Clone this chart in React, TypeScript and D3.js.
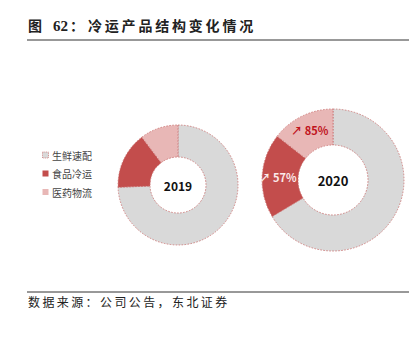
import React from "react";
import * as d3 from "d3";

const categories = ["生鲜速配", "食品冷运", "医药物流"];
const years = ["2019", "2020"];
const shares2019 = [74.4, 15.3, 10.3];
const shares2020 = [66.4, 19.2, 14.4];
const growthLabels = ["", "57%", "85%"];
const colors = ["#d9d9d9", "#c34d4c", "#e8b7b6"];

const SANS = "'Noto Sans CJK SC', 'Noto Sans', sans-serif";

type DonutProps = { cx: number; cy: number; r0: number; r1: number; values: number[]; year: string; fs: number; showGrowth?: boolean };

function Donut({ cx, cy, r0, r1, values, year, fs, showGrowth }: DonutProps) {
  const pie = d3.pie<number>().sort(null).value((d) => d).startAngle(0).endAngle(2 * Math.PI);
  const arcs = pie(values);
  const arc = d3.arc<d3.PieArcDatum<number>>().innerRadius(r0).outerRadius(r1);
  const labelArc = d3.arc<d3.PieArcDatum<number>>().innerRadius((r0 + r1) / 2).outerRadius((r0 + r1) / 2);
  return (
    <g transform={`translate(${cx},${cy})`}>
      {arcs.map((a, i) => (
        <path key={i} d={arc(a) || ""} fill={colors[i]} stroke="#c9706e" strokeWidth={0.8} strokeDasharray="1.6,1.4" />
      ))}
      <text x={0} y={0} textAnchor="middle" dominantBaseline="central" fontFamily={SANS} fontWeight={700} fontSize={fs} fill="#111">{year}</text>
      {showGrowth && arcs.map((a, i) => {
        if (!growthLabels[i]) return null;
        const [lx, ly] = labelArc.centroid(a);
        const dark = i === 1;
        return (
          <text key={"g" + i} x={lx + (dark ? -2 : 0)} y={ly + (dark ? 0 : -2)} textAnchor="middle" dominantBaseline="central" fontFamily={SANS} fontWeight={700} fontSize={11} fill={dark ? "#fbeaea" : "#c0141c"}>
            {"↗ " + growthLabels[i]}
          </text>
        );
      })}
    </g>
  );
}

export default function App() {
  return (
    <svg width={419} height={339} style={{ position: "absolute", left: 0, top: 0, background: "#fff" }}>
      <rect width={419} height={339} fill="#fff" />
      <text x={28} y={31} fontFamily={SANS} fontWeight={700} fontSize={14} fill="#222">图</text>
      <text x={53} y={31} fontFamily="'Liberation Serif', serif" fontWeight={700} fontSize={15} fill="#222">62</text>
      <text x={70} y={31} fontFamily={SANS} fontWeight={700} fontSize={14} fill="#222">：</text>
      <text x={88} y={31} fontFamily={SANS} fontWeight={700} fontSize={14} letterSpacing={2.8} fill="#222">冷运产品结构变化情况</text>
      <line x1={27} x2={409} y1={40} y2={40} stroke="#333" strokeWidth={1} />

      {categories.map((c, i) => (
        <g key={c} transform={`translate(0,${155 + i * 18.5})`}>
          <rect x={42.5} y={-3} width={6} height={6} fill={colors[i]} stroke={i === 0 ? "#c9706e" : "none"} strokeWidth={0.7} strokeDasharray={i === 0 ? "1,0.8" : undefined} />
          <text x={52} y={0} dominantBaseline="central" fontFamily={SANS} fontSize={10} fill="#444">{c}</text>
        </g>
      ))}

      <Donut cx={178} cy={185} r0={28} r1={60} values={shares2019} year={years[0]} fs={12} />
      <Donut cx={333} cy={180} r0={35} r1={71} values={shares2020} year={years[1]} fs={13} showGrowth />

      <line x1={27} x2={409} y1={292} y2={292} stroke="#333" strokeWidth={1} />
      <text x={28} y={301} dominantBaseline="central" fontFamily={SANS} fontSize={12} letterSpacing={2.4} fill="#222">数据来源：公司公告，东北证券</text>
    </svg>
  );
}
